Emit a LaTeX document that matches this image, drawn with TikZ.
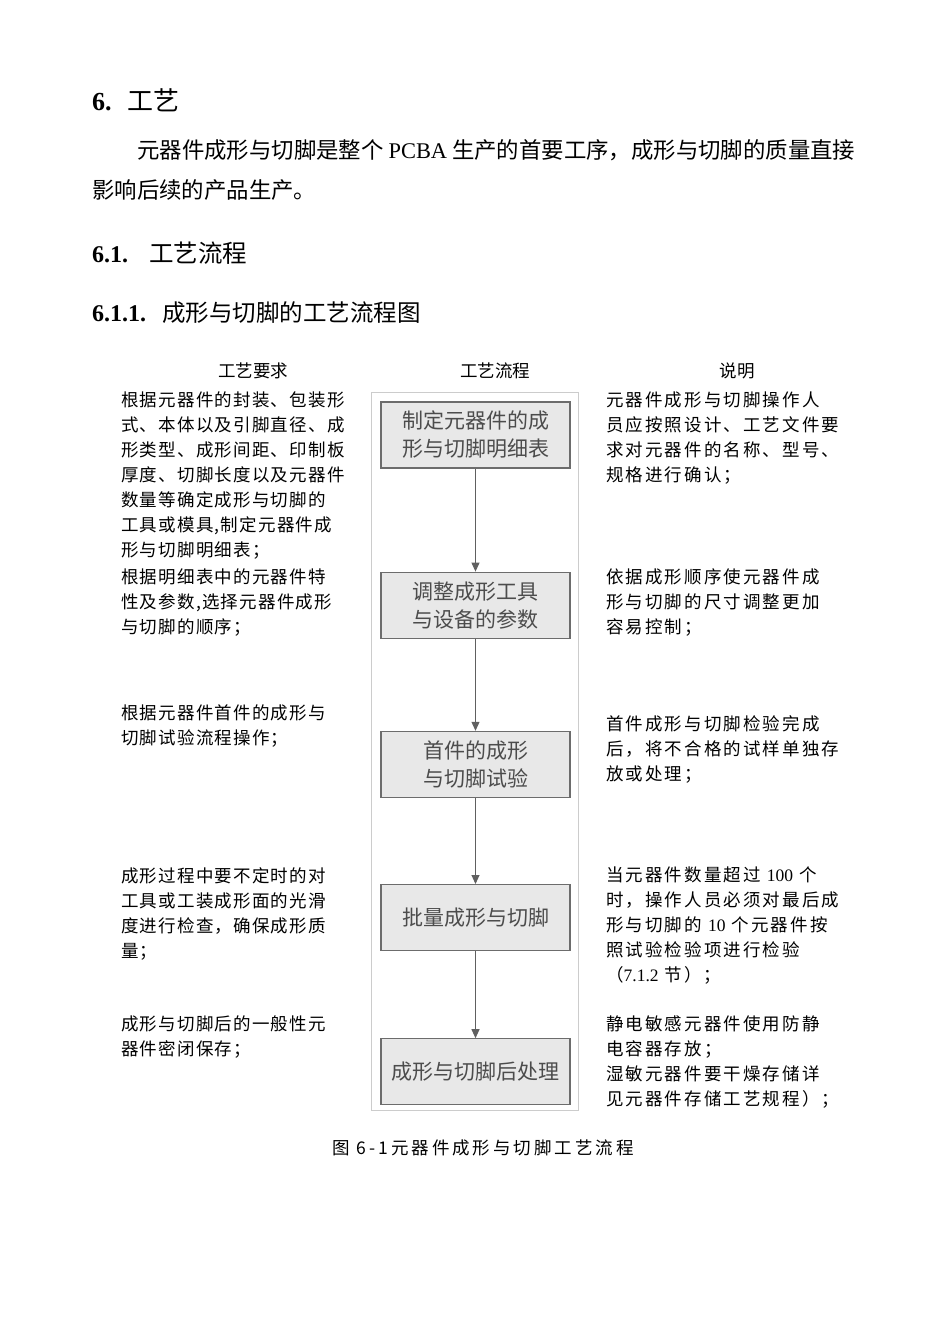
\documentclass[tikz,border=0pt]{standalone}
\usepackage{fontspec}
\setmainfont{Liberation Serif}
\newfontfamily\cjk{Noto Sans CJK SC}
\newfontfamily\cjkl[LetterSpace=7]{Noto Sans CJK SC}
\newfontfamily\cjkr[LetterSpace=12]{Noto Sans CJK SC}
\newfontfamily\cjkc[LetterSpace=17]{Noto Sans CJK SC}
\newfontfamily\lat{Liberation Serif}
\usetikzlibrary{positioning,arrows.meta}

\tikzset{
  stepbox/.style={draw=gray!85!black, fill=gray!18, line width=1.2pt,
    minimum width=189pt, minimum height=66pt, align=center, text=black!70,
    font=\cjk\fontsize{21}{28}\selectfont},
  note/.style={anchor=north west, align=left, inner sep=0pt,
    font=\cjkl\fontsize{17.5}{25}\selectfont},
  rnote/.style={note, font=\cjkr\fontsize{17.5}{25}\selectfont},
  head/.style={font=\cjk\fontsize{17.5}{22}\selectfont},
  flow/.style={-{Triangle[width=8pt,length=9pt]}, draw=gray!75!black, line width=1pt}
}

\begin{document}
\begin{tikzpicture}[x=1pt, y=-1pt]
  \useasboundingbox (0,0) rectangle (950,1344);

  % Headings and text
  \node (h1) [anchor=west, inner sep=0pt] at (92,100)
    {{\lat\bfseries\fontsize{26}{30}\selectfont 6.}\hspace{16pt}{\cjk\fontsize{26}{30}\selectfont 工艺}};
  \node (p1) [anchor=west, inner sep=0pt, font=\cjk\fontsize{22.4}{30}\selectfont] at (137,150)
    {元器件成形与切脚是整个 {\lat PCBA} 生产的首要工序，成形与切脚的质量直接};
  \node (p2) [anchor=west, inner sep=0pt, font=\cjk\fontsize{22.4}{30}\selectfont] at (92,190)
    {影响后续的产品生产。};
  \node (h2) [anchor=west, inner sep=0pt] at (92,253)
    {{\lat\bfseries\fontsize{24}{28}\selectfont 6.1.}\hspace{21pt}{\cjk\fontsize{24.5}{28}\selectfont 工艺流程}};
  \node (h3) [anchor=west, inner sep=0pt] at (92,313)
    {{\lat\bfseries\fontsize{24}{28}\selectfont 6.1.1.}\hspace{16pt}{\cjk\fontsize{23.5}{28}\selectfont 成形与切脚的工艺流程图}};

  % Column titles
  \node (c1) [head] at (253,371) {工艺要求};
  \node (c2) [head] at (495,371) {工艺流程};
  \node (c3) [head] at (737,371) {说明};

  % Frame
  \draw[gray!40, line width=1pt] (371,392) rectangle (578,1110);

  % Steps
  \node (s1) [stepbox] at (475.5,435) {制定元器件的成\\形与切脚明细表};
  \node (s2) [stepbox, below=103pt of s1] {调整成形工具\\与设备的参数};
  \node (s3) [stepbox, below=92pt of s2] {首件的成形\\与切脚试验};
  \node (s4) [stepbox, below=86pt of s3] {批量成形与切脚};
  \node (s5) [stepbox, below=87pt of s4] {成形与切脚后处理};

  % Arrows
  \draw[flow] (s1) -- (s2);
  \draw[flow] (s2) -- (s3);
  \draw[flow] (s3) -- (s4);
  \draw[flow] (s4) -- (s5);

  % Requirements
  \node (r1) [note] at (121,392) {根据元器件的封装、包装形\\式、本体以及引脚直径、成\\形类型、成形间距、印制板\\厚度、切脚长度以及元器件\\数量等确定成形与切脚的\\工具或模具,制定元器件成\\形与切脚明细表；};
  \node (r2) [note] at (121,569) {根据明细表中的元器件特\\性及参数,选择元器件成形\\与切脚的顺序；};
  \node (r3) [note] at (121,705) {根据元器件首件的成形与\\切脚试验流程操作；};
  \node (r4) [note] at (121,867) {成形过程中要不定时的对\\工具或工装成形面的光滑\\度进行检查，确保成形质\\量；};
  \node (r5) [note] at (121,1016) {成形与切脚后的一般性元\\器件密闭保存；};

  % Notes
  \node (n1) [rnote] at (606,392) {元器件成形与切脚操作人\\员应按照设计、工艺文件要\\求对元器件的名称、型号、\\规格进行确认；};
  \node (n2) [rnote] at (606,569) {依据成形顺序使元器件成\\形与切脚的尺寸调整更加\\容易控制；};
  \node (n3) [rnote] at (606,715) {首件成形与切脚检验完成\\后，将不合格的试样单独存\\放或处理；};
  \node (n4) [rnote] at (606,867) {当元器件数量超过 {\lat 100} 个\\时，操作人员必须对最后成\\形与切脚的 {\lat 10} 个元器件按\\照试验检验项进行检验\\（{\lat 7.1.2} 节）；};
  \node (n5) [rnote] at (606,1016) {静电敏感元器件使用防静\\电容器存放；\\湿敏元器件要干燥存储详\\见元器件存储工艺规程）；};

  % Caption
  \node (cap) [font=\cjkc\fontsize{17.5}{22}\selectfont] at (483,1148) {图 6-1元器件成形与切脚工艺流程};
\end{tikzpicture}
\end{document}
